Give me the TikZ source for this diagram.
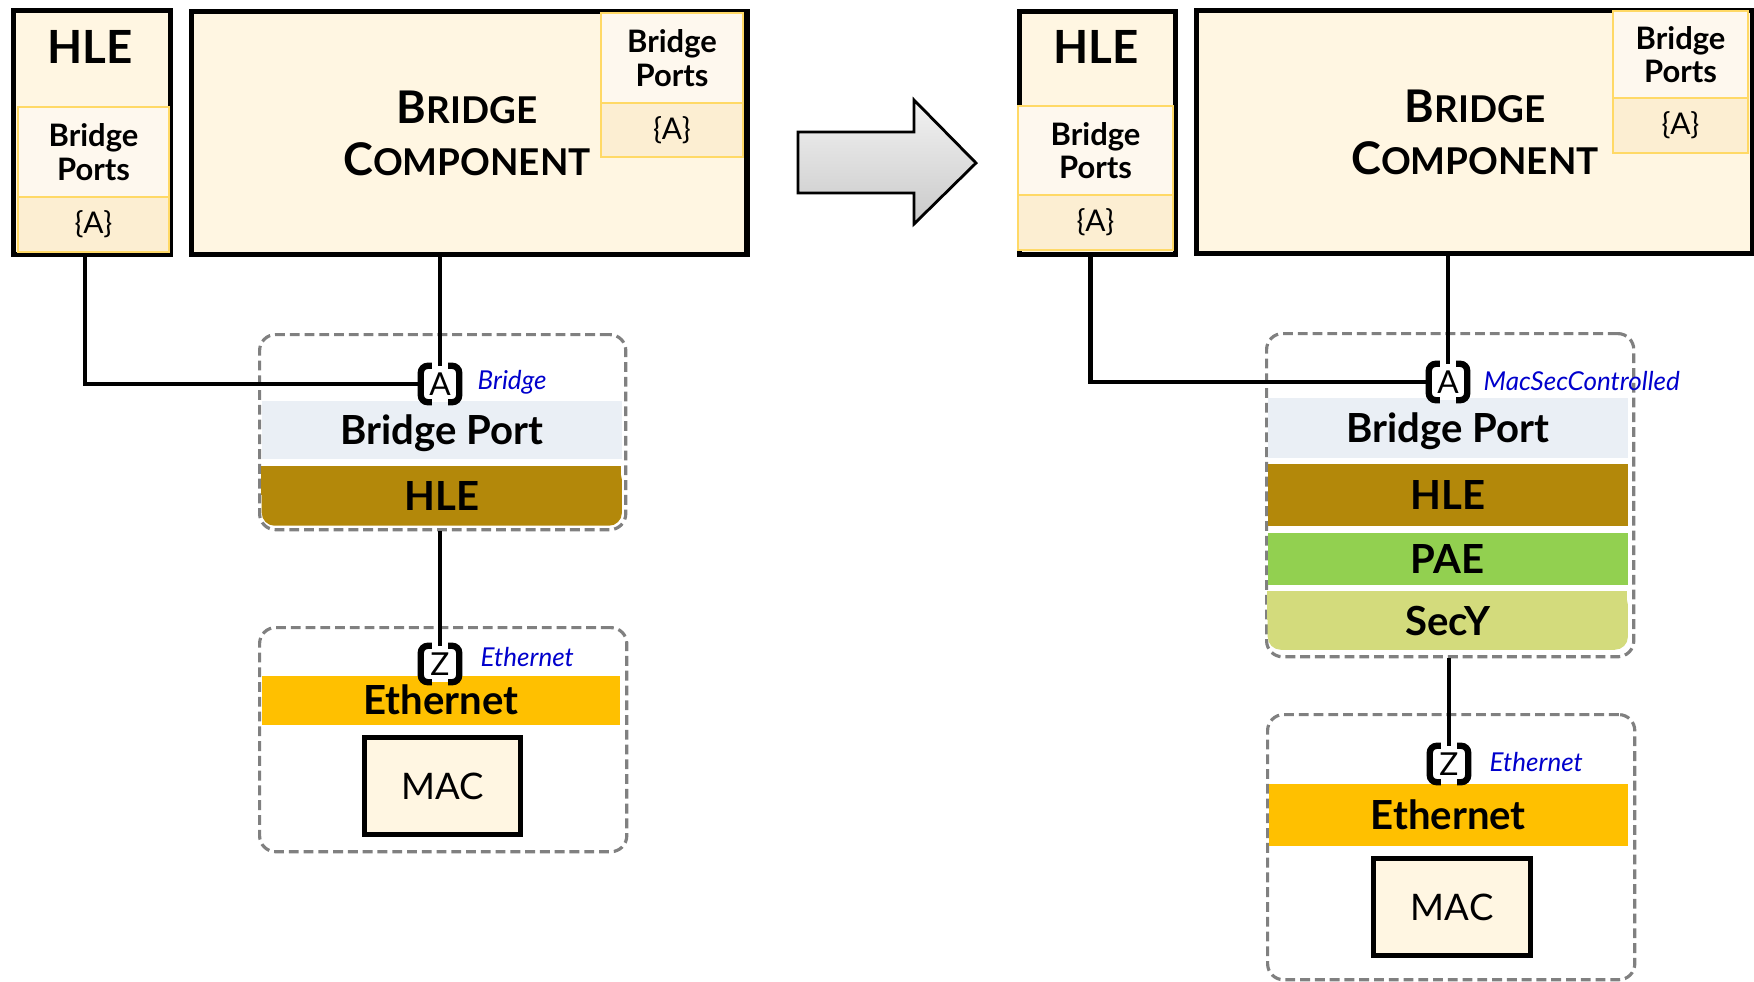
\documentclass[tikz,border=0pt]{standalone}
\usepackage{fontspec}
\setmainfont{Lato}
\usetikzlibrary{positioning}

\definecolor{cream}{HTML}{FFF6E2}
\definecolor{portfill}{HTML}{FEF8EE}
\definecolor{portcell}{HTML}{FCEED2}
\definecolor{portline}{HTML}{FFD966}
\definecolor{bpband}{HTML}{EAEFF5}
\definecolor{hleband}{HTML}{B3880A}
\definecolor{paeband}{HTML}{92D050}
\definecolor{secyband}{HTML}{D3DB7C}
\definecolor{ethband}{HTML}{FFC000}
\definecolor{ifblue}{HTML}{0000CC}
\definecolor{dashgray}{HTML}{808080}

\begin{document}
\begin{tikzpicture}[x=0.01cm,y=-0.01cm,
    box/.style={draw,line width=1.5pt,fill=cream,anchor=north west,inner sep=0pt},
    ports/.style={draw=portline,line width=0.6pt,fill=portfill,anchor=north west,inner sep=0pt,outer sep=0pt,align=center,font=\fontsize{8.8}{9.6}\selectfont\bfseries},
    portsA/.style={draw=portline,line width=0.6pt,fill=portcell,inner sep=0pt,outer sep=0pt,font=\fontsize{8.5}{9}\selectfont},
    dbox/.style={draw=dashgray,line width=0.9pt,dash pattern=on 2.8pt off 1.4pt,rounded corners=0.16cm,anchor=north west,inner sep=0pt},
    band/.style={anchor=north west,inner sep=0pt,text height=8.2pt,text depth=0pt,font=\fontsize{11.4}{12}\selectfont\bfseries},
    port/.style={fill=white,inner sep=0pt,minimum width=0.37cm,minimum height=0.35cm,font=\fontsize{9}{10}\selectfont},
    brk/.style={line width=1.8pt,rounded corners=0.07cm},
    ifname/.style={anchor=base west,inner sep=0pt,text=ifblue,font=\fontsize{7.4}{9}\selectfont\itshape},
    wire/.style={line width=1.3pt},
    mac/.style={draw,line width=1.5pt,fill=cream,anchor=north west,inner sep=0pt,font=\fontsize{10.4}{12}\selectfont},
    title/.style={font=\fontsize{13}{15}\selectfont\bfseries},
    comp/.style={align=center,font=\fontsize{12.8}{14.8}\selectfont\bfseries}]
  \useasboundingbox (0,0) rectangle (1754,981);

  % before
  \node[box,minimum width=1.57cm,minimum height=2.44cm] (hleL) at (11,8) {};
  \node[title] (hleLt) at (90,47) {HLE};
  \node[ports,minimum width=1.51cm,minimum height=0.90cm] (bpsL) at (18,107) {Bridge\\Ports};
  \node[portsA,below=0pt of bpsL,minimum width=1.51cm,minimum height=0.55cm] (aL) {\{A\}};
  \node[box,minimum width=5.55cm,minimum height=2.43cm] (bcL) at (189,9) {};
  \node[comp] (bcLt) at (467,133) {B{\fontsize{10.5}{14.8}\selectfont RIDGE}\\C{\fontsize{10.5}{14.8}\selectfont OMPONENT}};
  \node[ports,minimum width=1.42cm,minimum height=0.90cm] (bpcL) at (601,13) {Bridge\\Ports};
  \node[portsA,below=0pt of bpcL,minimum width=1.42cm,minimum height=0.54cm] (acL) {\{A\}};

  \node[dbox,minimum width=3.66cm,minimum height=1.95cm] (dsh1) at (258,333) {};
  \node[band,fill=bpband,minimum width=3.60cm,minimum height=0.58cm] (bpL) at (261,400) {Bridge Port};
  \fill[hleband] (261,466) rectangle (621,495);
  \node[band,fill=hleband,rounded corners=0.13cm,minimum width=3.60cm,minimum height=0.59cm] (hleBL) at (261,466) {HLE};
  \node[dbox,minimum width=3.67cm,minimum height=2.24cm] (dsh2) at (258,626) {};
  \node[band,fill=ethband,minimum width=3.58cm,minimum height=0.49cm] (ethL) at (261,675) {Ethernet};
  \node[mac,minimum width=1.56cm,minimum height=0.97cm] (macL) at (362,735) {MAC};
  \node[port] (pA) at (440,384) {A};
  \node[port] (pZ) at (440,664) {Z};
  \node[ifname] (lblA) at (477,389) {Bridge};
  \node[ifname] (lblZ) at (480,666) {Ethernet};

  \draw[wire] ([xshift=-0.07cm]hleL.south) |- (pA.west);
  \draw[wire] (pA.north |- bcL.south) -- (pA.north);
  \draw[wire] (pZ.north |- dsh1.south) -- (pZ.north);

  % arrow
  \shade[top color=gray!10,bottom color=gray!42,draw=black,line width=0.8pt]
    (798,132) -- (914,132) -- (914,100) -- (976,163) -- (914,224) -- (914,193) -- (798,193) -- cycle;

  % after
  \node[box,minimum width=1.56cm,minimum height=2.43cm] (hleR) at (1017,9) {};
  \node[title] (hleRt) at (1096,47) {HLE};
  \node[ports,minimum width=1.55cm,minimum height=0.89cm] (bpsR) at (1018,106) {Bridge\\Ports};
  \node[portsA,below=0pt of bpsR,minimum width=1.55cm,minimum height=0.55cm] (aR) {\{A\}};
  \node[box,minimum width=5.56cm,minimum height=2.43cm] (bcR) at (1194,8) {};
  \node[comp] (bcRt) at (1475,132) {B{\fontsize{10.5}{14.8}\selectfont RIDGE}\\C{\fontsize{10.5}{14.8}\selectfont OMPONENT}};
  \node[ports,minimum width=1.35cm,minimum height=0.87cm] (bpcR) at (1613,11) {Bridge\\Ports};
  \node[portsA,below=0pt of bpcR,minimum width=1.35cm,minimum height=0.55cm] (acR) {\{A\}};

  \node[dbox,minimum width=3.67cm,minimum height=3.23cm] (dsh3) at (1265,332) {};
  \node[band,fill=bpband,minimum width=3.60cm,minimum height=0.60cm] (bpR) at (1267,397) {Bridge Port};
  \node[band,fill=hleband,minimum width=3.60cm,minimum height=0.62cm] (hleBR) at (1267,463) {HLE};
  \node[band,fill=paeband,minimum width=3.60cm,minimum height=0.52cm] (paeR) at (1267,532) {PAE};
  \fill[secyband] (1267,591) rectangle (1627,620);
  \node[band,fill=secyband,rounded corners=0.13cm,minimum width=3.60cm,minimum height=0.58cm] (secyR) at (1267,591) {SecY};
  \node[dbox,minimum width=3.67cm,minimum height=2.65cm] (dsh4) at (1266,713) {};
  \node[band,fill=ethband,minimum width=3.59cm,minimum height=0.62cm] (ethR) at (1268,783) {Ethernet};
  \node[mac,minimum width=1.57cm,minimum height=0.97cm] (macR) at (1371,856) {MAC};
  \node[port] (qA) at (1448,382) {A};
  \node[port] (qZ) at (1449,764) {Z};
  \node[ifname] (lblqA) at (1483,390) {MacSecControlled};
  \node[ifname] (lblqZ) at (1489,771) {Ethernet};

  \draw[wire] ([xshift=-0.07cm]hleR.south) |- (qA.west);
  \draw[wire] (qA.north |- bcR.south) -- (qA.north);
  \draw[wire] (qZ.north |- dsh3.south) -- (qZ.north);

  % port brackets
  \foreach \p in {pA,pZ,qA,qZ}{
    \draw[brk] ([xshift=0.11cm]\p.north west) -- (\p.north west) -- (\p.south west) -- ([xshift=0.11cm]\p.south west);
    \draw[brk] ([xshift=-0.11cm]\p.north east) -- (\p.north east) -- (\p.south east) -- ([xshift=-0.11cm]\p.south east);
  }
\end{tikzpicture}
\end{document}
